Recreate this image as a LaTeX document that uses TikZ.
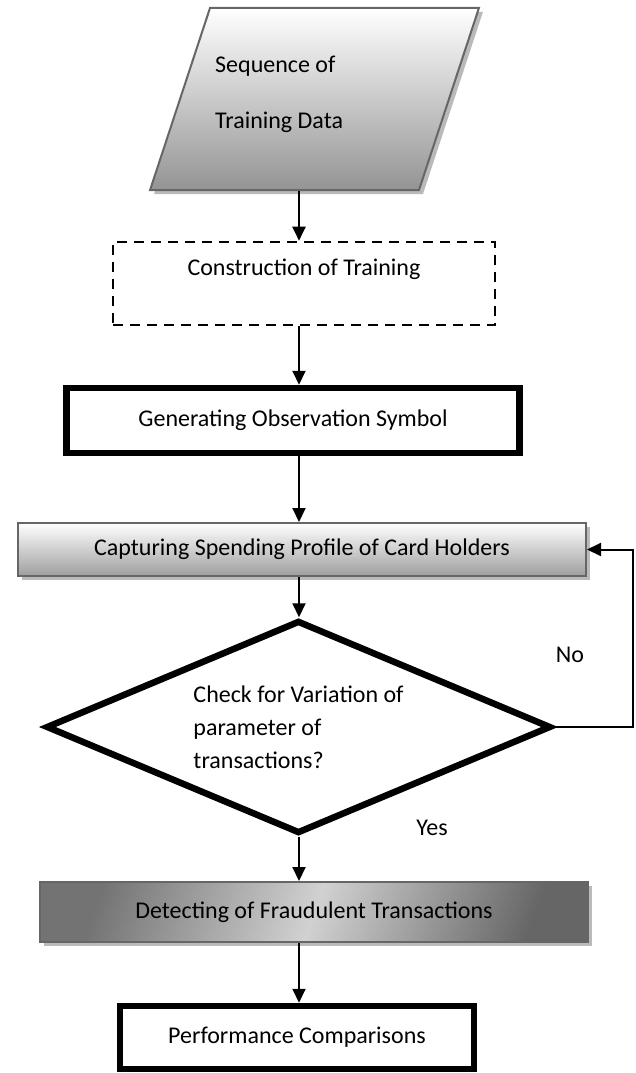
\documentclass[tikz,border=0pt]{standalone}
\usepackage{fontspec}
\setmainfont{Carlito}
\usetikzlibrary{arrows.meta,shapes.geometric,shadows}

\begin{document}
\begin{tikzpicture}[x=1pt,y=1pt]
\tikzset{every node/.style={font=\fontsize{24}{29}\selectfont,inner sep=0pt}}
\tikzset{flowarrow/.style={line width=2pt,-{Triangle[width=13pt,length=14pt]}}}
\tikzset{databox/.style={trapezium,trapezium left angle=74,trapezium right angle=106,trapezium stretches=true,inner sep=4pt,draw=black!60,line width=2pt,top color=white,bottom color=black!42,drop shadow={shadow xshift=4pt,shadow yshift=-4pt,fill=black!45,opacity=.6}}}
\tikzset{dashbox/.style={rectangle,draw,line width=2.6pt,dash pattern=on 10pt off 7pt}}
\tikzset{thickbox/.style={rectangle,draw,line width=6.5pt}}
\tikzset{gradbox/.style={rectangle,draw=black!60,line width=2pt,drop shadow={shadow xshift=4pt,shadow yshift=-4pt,fill=black!45,opacity=.6}}}
\tikzset{decision/.style={diamond,draw,line width=6.5pt,shape aspect=2.35,align=left}}

\useasboundingbox (0,0) rectangle (635,-1073);
\coordinate (spine) at (299,0);
\coordinate (loop) at (633,0);

\node[databox,minimum width=329pt,minimum height=182pt] (seq) at (314.5,-99) {};
\node[anchor=west,align=left,font=\fontsize{24}{56}\selectfont] (seqtxt) at (215,-94) {Sequence of\\Training Data};

\node[dashbox,minimum width=382pt,minimum height=83pt,text height=17pt,text depth=34pt] (cons) at (304,-283.5) {Construction of Training};
\node[thickbox,minimum width=453pt,minimum height=65pt] (gen) at (293,-420.5) {Generating Observation Symbol};
\node[gradbox,top color=white,bottom color=black!38,minimum width=568pt,minimum height=53pt] (cap) at (302,-549.5) {Capturing Spending Profile of Card Holders};
\node[decision,minimum width=505pt,minimum height=213pt,font=\fontsize{24}{33}\selectfont] (chk) at (298.5,-727) {Check for Variation of\\parameter of\\transactions?};
\node[gradbox,left color=black!55,right color=black!60,middle color=black!18,shading angle=70,minimum width=548pt,minimum height=60pt] (det) at (314,-912) {Detecting of Fraudulent Transactions};
\node[thickbox,minimum width=354pt,minimum height=63pt] (perf) at (297,-1037.5) {Performance Comparisons};

\node (no) at (570,-655) {No};
\node (yes) at (432,-828) {Yes};

\draw[flowarrow] (seq.south -| spine) -- (cons.north -| spine);
\draw[flowarrow] (cons.south -| spine) -- (gen.north -| spine);
\draw[flowarrow] (gen.south -| spine) -- (cap.north -| spine);
\draw[flowarrow] (cap.south -| spine) -- (chk.north -| spine);
\draw[flowarrow] (chk.south -| spine) -- (det.north -| spine);
\draw[flowarrow] (det.south -| spine) -- (perf.north -| spine);
\draw[flowarrow] (chk.east) -- (chk.east -| loop) |- (cap.east);

\end{tikzpicture}
\end{document}
